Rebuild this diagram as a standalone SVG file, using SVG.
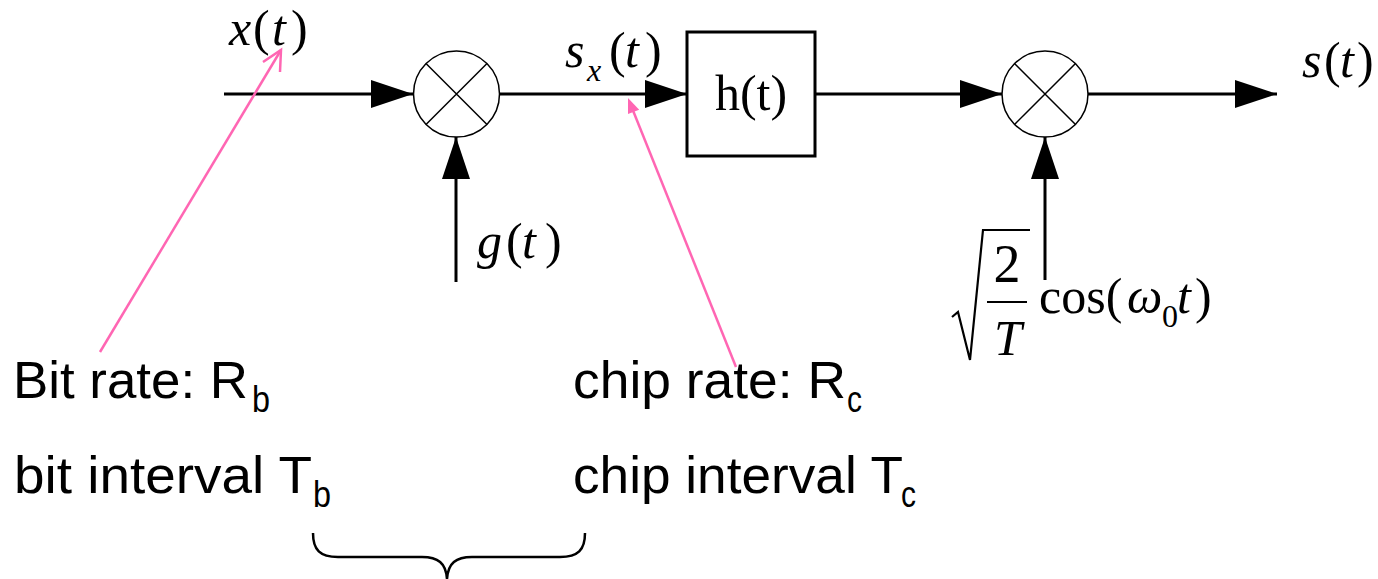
<svg xmlns="http://www.w3.org/2000/svg" width="1378" height="579" viewBox="0 0 1378 579">
<style>
.m{font-family:"Liberation Serif","Times New Roman",serif;fill:#000}
.i{font-style:italic}
.s{font-family:"Liberation Sans",Arial,sans-serif;fill:#000}
.wire{stroke:#000;stroke-width:3;fill:none;marker-end:url(#ah)}
.mul{fill:#fff;stroke:#000;stroke-width:1.5}
.pk{stroke:#ff66b3;stroke-width:2.5;fill:none}
</style>
<defs>
<marker id="ah" markerUnits="userSpaceOnUse" markerWidth="42" markerHeight="28" refX="42" refY="14" orient="auto">
<path d="M0,0 L42,14 L0,28 z" fill="#000"/>
</marker>
</defs>
<rect width="1378" height="579" fill="#fff"/>
<g id="connectors">
<line class="wire" x1="224" y1="94" x2="413" y2="94"/>
<line class="wire" x1="500" y1="94" x2="687" y2="94"/>
<line class="wire" x1="815" y1="94" x2="1002" y2="94"/>
<line class="wire" x1="1088" y1="94" x2="1277" y2="94"/>
<line class="wire" x1="456" y1="282" x2="456" y2="137"/>
<line class="wire" x1="1045" y1="280" x2="1045" y2="137"/>
</g>
<g id="mult1">
<circle class="mul" cx="456.5" cy="94" r="43"/>
<path d="M426,63.5 L487,124.5 M487,63.5 L426,124.5" stroke="#000" stroke-width="1.5"/>
</g>
<g id="filter">
<rect x="687" y="32" width="128" height="124" fill="#fff" stroke="#000" stroke-width="3"/>
<text class="m" x="751" y="110" font-size="50" text-anchor="middle">h(t)</text>
</g>
<g id="mult2">
<circle class="mul" cx="1045" cy="94" r="43"/>
<path d="M1014.5,63.5 L1075.5,124.5 M1075.5,63.5 L1014.5,124.5" stroke="#000" stroke-width="1.5"/>
</g>
<g id="label-x">
<text class="m" font-size="50" y="45"><tspan class="i" x="229">x</tspan><tspan x="253">(</tspan><tspan class="i" x="272">t</tspan><tspan x="291">)</tspan></text>
</g>
<g id="label-sx">
<text class="m" font-size="50" y="67"><tspan class="i" x="565">s</tspan><tspan x="609">(</tspan><tspan class="i" x="625">t</tspan><tspan x="645">)</tspan></text>
<text class="m i" font-size="32" x="587" y="81">x</text>
</g>
<g id="label-g">
<text class="m" font-size="50" y="258"><tspan class="i" x="477">g</tspan><tspan x="506">(</tspan><tspan class="i" x="522">t</tspan><tspan x="545">)</tspan></text>
</g>
<g id="label-s">
<text class="m" font-size="50" y="77"><tspan class="i" x="1302">s</tspan><tspan x="1324">(</tspan><tspan class="i" x="1340">t</tspan><tspan x="1357">)</tspan></text>
</g>
<g id="label-carrier">
<path d="M952,317 L958,312 L970,360 L983,230 L1030,230" fill="none" stroke="#000" stroke-width="2.2"/>
<line x1="987" y1="302" x2="1027" y2="302" stroke="#000" stroke-width="2.2"/>
<text class="m" font-size="54" x="1007" y="282" text-anchor="middle">2</text>
<text class="m i" font-size="50" x="1008" y="355" text-anchor="middle">T</text>
<text class="m" font-size="50" y="313"><tspan x="1039">cos(</tspan><tspan class="i" x="1127">ω</tspan><tspan class="i" x="1177">t</tspan><tspan x="1195">)</tspan></text>
<text class="m" font-size="32" x="1162" y="327">0</text>
</g>
<g id="annot-bit">
<text class="s" font-size="52" x="13" y="398" textLength="235" lengthAdjust="spacingAndGlyphs">Bit rate: R</text>
<text class="s" font-size="37" x="252" y="412" textLength="18" lengthAdjust="spacingAndGlyphs">b</text>
<text class="s" font-size="52" x="14" y="493" textLength="298" lengthAdjust="spacingAndGlyphs">bit interval T</text>
<text class="s" font-size="37" x="313" y="507" textLength="18" lengthAdjust="spacingAndGlyphs">b</text>
</g>
<g id="annot-chip">
<text class="s" font-size="52" x="573" y="398" textLength="273" lengthAdjust="spacingAndGlyphs">chip rate: R</text>
<text class="s" font-size="37" x="847" y="412" textLength="15" lengthAdjust="spacingAndGlyphs">c</text>
<text class="s" font-size="52" x="573" y="493" textLength="330" lengthAdjust="spacingAndGlyphs">chip interval T</text>
<text class="s" font-size="37" x="901" y="507" textLength="15" lengthAdjust="spacingAndGlyphs">c</text>
</g>
<g id="pointers">
<line class="pk" x1="100" y1="352" x2="281" y2="50"/>
<polyline class="pk" points="263,62 281,50 280,72"/>
<line class="pk" x1="736" y1="367" x2="632" y2="108"/>
<polygon points="628,98 639.2,109.7 628,114.1" fill="#ff66b3"/>
</g>
<g id="brace">
<path d="M313,533 C313,550 320,557 338,557 L422,557 C438,557 446,563 447,579 C448,563 456,557 472,557 L560,557 C578,557 585,550 585,533" fill="none" stroke="#000" stroke-width="2.5"/>
</g>
</svg>
